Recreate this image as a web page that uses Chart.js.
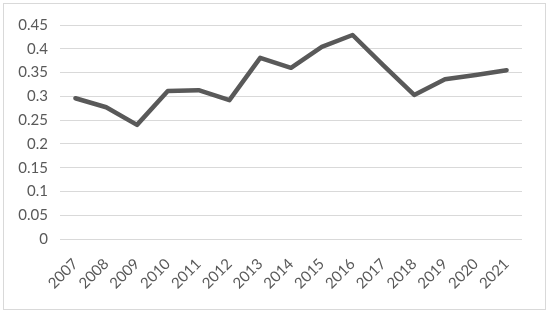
<!DOCTYPE html>
<html>
<head>
<meta charset="utf-8">
<script src="https://cdn.jsdelivr.net/npm/chart.js@4"></script>
<style>
  body { margin: 0; background: #fff; }
  #box {
    position: absolute; left: 3px; top: 3px;
    width: 541px; height: 305px;
    border: 1px solid #d9d9d9;
  }
</style>
</head>
<body>
<div id="box"><canvas id="chart"></canvas></div>
<script>
var years = ['2007', '2008', '2009', '2010', '2011', '2012', '2013', '2014',
             '2015', '2016', '2017', '2018', '2019', '2020', '2021'];
var values = [0.296, 0.277, 0.240, 0.311, 0.313, 0.292, 0.381, 0.360,
              0.404, 0.429, 0.365, 0.303, 0.336, 0.345, 0.355];

var textColor = '#595959';

var chart = new Chart('chart', {
  type: 'line',
  data: {
    labels: years,
    datasets: [{
      data: values,
      borderColor: '#595959',
      borderWidth: 4.5,
      borderJoinStyle: 'round',
      borderCapStyle: 'round',
      pointRadius: 0,
      fill: false,
      tension: 0
    }]
  },
  options: {
    responsive: true,
    maintainAspectRatio: false,
    animation: false,
    layout: { padding: { top: 21, right: 23, left: 0, bottom: 0 } },
    plugins: { legend: { display: false }, tooltip: { enabled: false } },
    scales: {
      x: {
        offset: true,
        grid: { display: false, drawTicks: false },
        border: { display: false },
        ticks: {
          color: textColor,
          font: { family: 'Lato', size: 15 },
          minRotation: 45,
          maxRotation: 45,
          padding: 16,
          autoSkip: false
        },
        afterFit: function (s) { s.height = 70; }
      },
      y: {
        min: 0,
        max: 0.45,
        grid: { color: '#d9d9d9', lineWidth: 1, drawTicks: false },
        border: { display: false },
        ticks: {
          stepSize: 0.05,
          color: textColor,
          font: { family: 'Lato', size: 15 },
          padding: 12,
          callback: function (v) { return String(+v.toFixed(2)); }
        },
        afterFit: function (s) { s.width = 56; }
      }
    }
  }
});
</script>
</body>
</html>
